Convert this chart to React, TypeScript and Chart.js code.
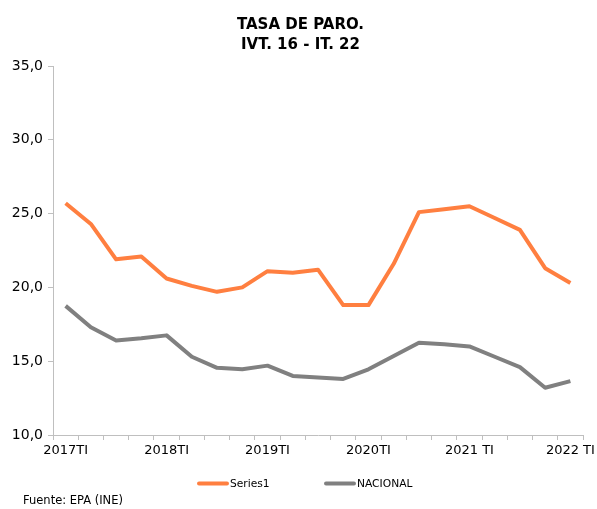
import React, { useEffect, useRef } from "react";
import { Chart, registerables } from "chart.js";

Chart.register(...registerables);

const categories = [
  "2017TI", "2017TII", "2017TIII", "2017TIV",
  "2018TI", "2018TII", "2018TIII", "2018TIV",
  "2019TI", "2019TII", "2019TIII", "2019TIV",
  "2020TI", "2020TII", "2020TIII", "2020TIV",
  "2021 TI", "2021 TII", "2021 TIII", "2021 TIV",
  "2022 TI",
];

const series1 = [25.7, 24.3, 21.9, 22.1, 20.6, 20.1, 19.7, 20.0, 21.1, 21.0, 21.2, 18.8, 18.8, 21.6, 25.1, 25.3, 25.5, 24.7, 23.9, 21.3, 20.3];
const nacional = [18.75, 17.3, 16.4, 16.55, 16.75, 15.3, 14.55, 14.45, 14.7, 14.0, 13.9, 13.8, 14.45, 15.35, 16.25, 16.15, 16.0, 15.3, 14.6, 13.2, 13.65];

const titleLines = ["TASA DE PARO.", "IVT. 16 - IT. 22"];
const seriesNames = ["Series1", "NACIONAL"];
const sourceText = "Fuente: EPA (INE)";

const ORANGE = "#FF7F40";
const GRAY = "#808080";
const AXIS = "#BFBFBF";
const FONT = "'DejaVu Sans', Verdana, sans-serif";

const decorPlugin = {
  id: "decor",
  afterDraw(chart: any) {
    const ctx = chart.ctx;
    ctx.save();
    ctx.fillStyle = "#000";
    ctx.textAlign = "center";
    ctx.textBaseline = "alphabetic";
    ctx.font = `bold 15px ${FONT}`;
    ctx.fillText(titleLines[0], 300.5, 28.5);
    ctx.fillText(titleLines[1], 300.5, 49);

    // legend
    const items = [
      { name: seriesNames[0], color: ORANGE, x: 198 },
      { name: seriesNames[1], color: GRAY, x: 325 },
    ];
    ctx.font = `10.7px ${FONT}`;
    ctx.textAlign = "left";
    ctx.textBaseline = "middle";
    items.forEach((it) => {
      ctx.strokeStyle = it.color;
      ctx.lineWidth = 4;
      ctx.lineCap = "round";
      ctx.beginPath();
      ctx.moveTo(it.x + 1, 483.5);
      ctx.lineTo(it.x + 29, 483.5);
      ctx.stroke();
      ctx.fillStyle = "#000";
      ctx.fillText(it.name, it.x + 32, 484);
    });

    ctx.font = `11.5px ${FONT}`;
    ctx.textBaseline = "alphabetic";
    ctx.fillText(sourceText, 23, 503.5);
    ctx.restore();
  },
};

export default function App() {
  const ref = useRef<HTMLCanvasElement>(null);
  useEffect(() => {
    document.body.style.margin = "0";
    const chart = new Chart(ref.current as HTMLCanvasElement, {
      type: "line",
      data: {
        labels: categories,
        datasets: [
          {
            label: seriesNames[0],
            data: series1,
            borderColor: ORANGE,
            backgroundColor: ORANGE,
            borderWidth: 4,
            pointRadius: 0,
            tension: 0,
            borderJoinStyle: "round",
          },
          {
            label: seriesNames[1],
            data: nacional,
            borderColor: GRAY,
            backgroundColor: GRAY,
            borderWidth: 4,
            pointRadius: 0,
            tension: 0,
            borderJoinStyle: "round",
          },
        ],
      },
      options: {
        animation: false,
        responsive: false,
        layout: { padding: { top: 66, right: 14, bottom: 0, left: 0 } },
        plugins: {
          legend: { display: false },
          title: { display: false },
          tooltip: { enabled: false },
        },
        scales: {
          x: {
            type: "category",
            offset: true,
            grid: {
              offset: true,
              drawOnChartArea: false,
              drawTicks: true,
              tickLength: 5,
              color: AXIS,
            },
            border: { color: AXIS, width: 1 },
            ticks: {
              autoSkip: false,
              maxRotation: 0,
              minRotation: 0,
              padding: 3,
              color: "#000",
              font: { family: FONT, size: 13 },
              callback: (_v: any, i: number) => (i % 4 === 0 ? categories[i] : ""),
            },
            afterFit: (s: any) => {
              s.height = 74;
              s.paddingLeft = 0;
              s.paddingRight = 0;
            },
          },
          y: {
            min: 10,
            max: 35,
            ticks: {
              stepSize: 5,
              padding: 5,
              color: "#000",
              font: { family: FONT, size: 14 },
              callback: (v: any) => Number(v).toFixed(1).replace(".", ","),
            },
            grid: {
              drawOnChartArea: false,
              drawTicks: true,
              tickLength: 5,
              color: AXIS,
            },
            border: { color: AXIS, width: 1 },
            afterFit: (s: any) => {
              s.width = 53;
            },
          },
        },
      },
      plugins: [decorPlugin],
    });
    return () => chart.destroy();
  }, []);
  return (
    <div style={{ position: "absolute", left: 0, top: 0, width: 597, height: 509 }}>
      <canvas ref={ref} width={597} height={509} />
    </div>
  );
}
